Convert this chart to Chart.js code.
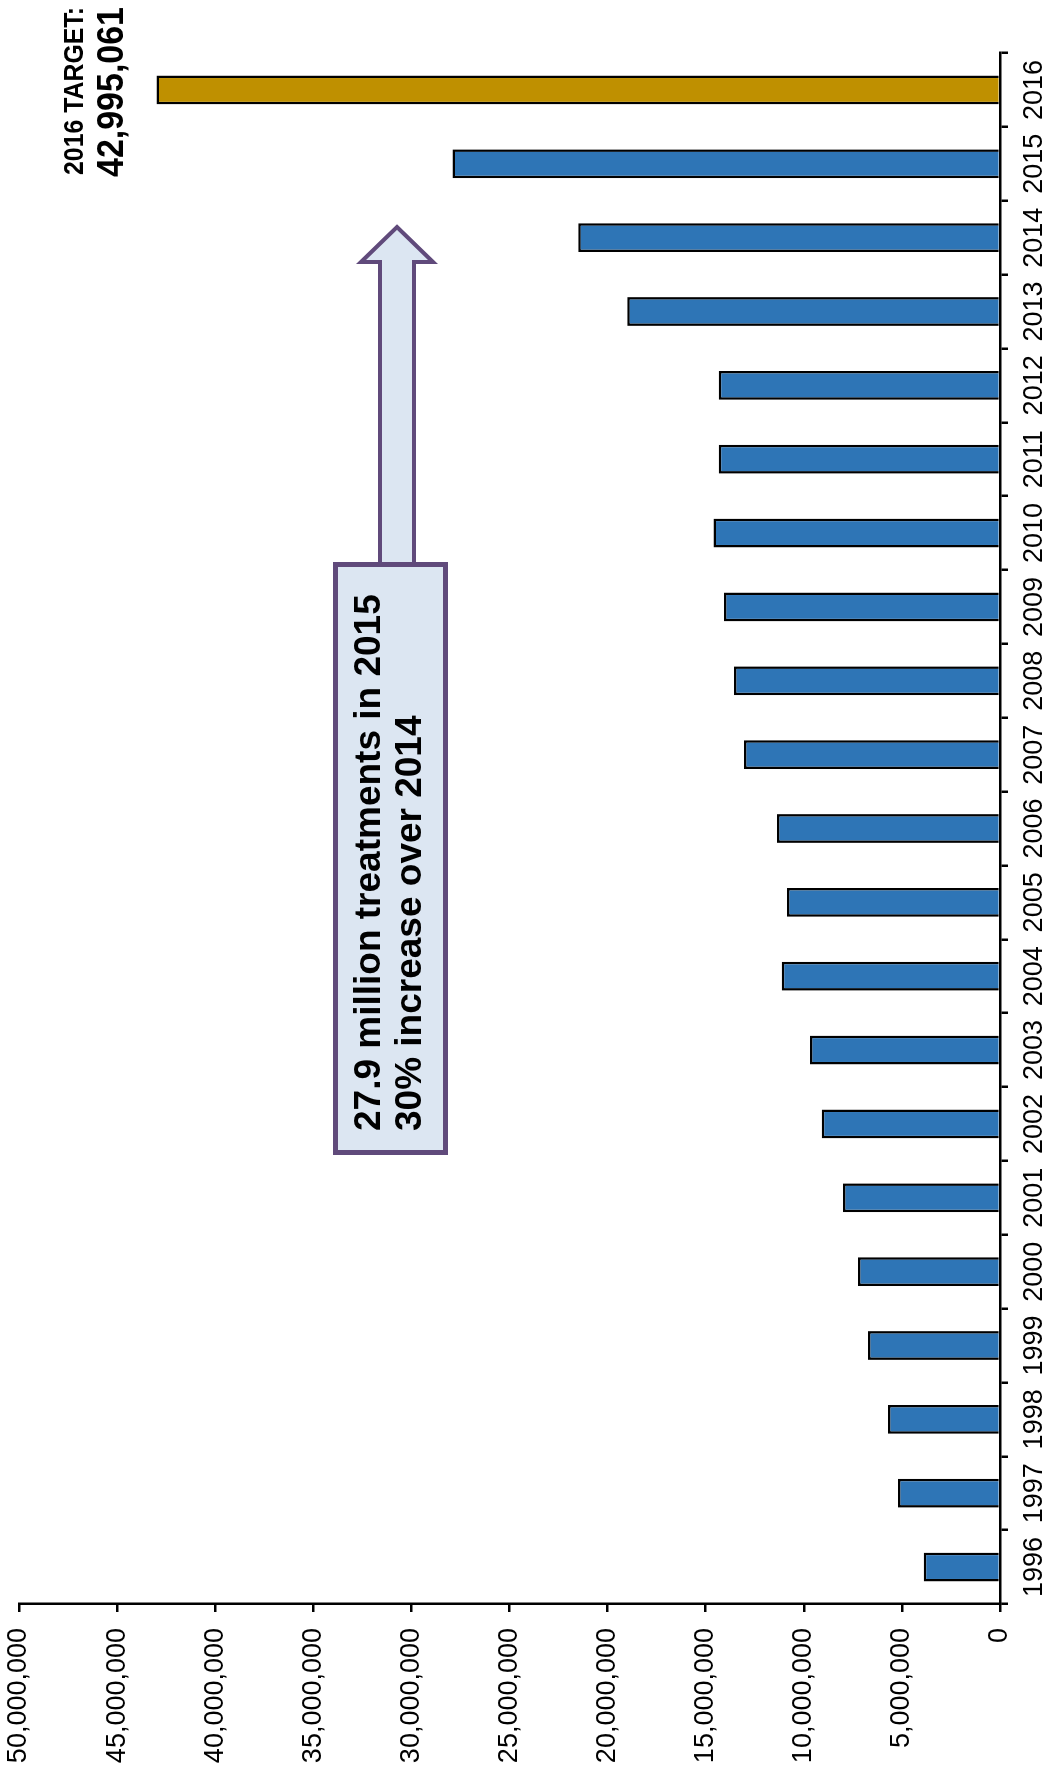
<!DOCTYPE html>
<html><head><meta charset="utf-8">
<script src="https://cdn.jsdelivr.net/npm/chart.js@4"></script>
<style>
html,body{margin:0;padding:0;background:#fff;width:1051px;height:1769px;overflow:hidden}
#wrap{position:absolute;left:0;top:0;width:1769px;height:1051px;transform-origin:0 0;transform:translate(0,1769px) rotate(-90deg)}
canvas{display:block}
</style></head><body>
<div id="wrap"><canvas id="c" width="1769" height="1051"></canvas></div>
<script>
// ---- data ----
const years = ['1996','1997','1998','1999','2000','2001','2002','2003','2004','2005','2006','2007','2008','2009','2010','2011','2012','2013','2014','2015','2016'];
const treatments = [3880000,5200000,5710000,6730000,7240000,8000000,9080000,9690000,11120000,10860000,11370000,13050000,13560000,14070000,14600000,14330000,14330000,19000000,21500000,27900000,42995061];
const targetYear = '2016';
const valueAxisMax = 50000000;
const valueAxisStep = 5000000;
const calloutLines = ['27.9 million treatments in 2015', '30% increase over 2014'];
const targetLines = ['2016 TARGET:', '42,995,061'];

const FONT = "'Liberation Sans', Arial, sans-serif";
const BLUE = '#2E75B6', GOLD = '#BF9000';

const annotations = {
  id: 'annotations',
  afterDraw(chart) {
    const ctx = chart.ctx;
    ctx.save();
    // arrow
    ctx.lineJoin = 'miter';
    ctx.fillStyle = '#DCE6F2';
    ctx.strokeStyle = '#604A7B';
    ctx.lineWidth = 4;
    ctx.beginPath();
    ctx.moveTo(1200, 380);
    ctx.lineTo(1507, 380);
    ctx.lineTo(1507, 361);
    ctx.lineTo(1542, 397);
    ctx.lineTo(1507, 433);
    ctx.lineTo(1507, 414);
    ctx.lineTo(1200, 414);
    ctx.closePath();
    ctx.fill();
    ctx.stroke();
    // box
    ctx.lineWidth = 5;
    ctx.beginPath();
    ctx.rect(616.5, 335.5, 588, 110);
    ctx.fill();
    ctx.stroke();
    // callout text
    ctx.fillStyle = '#000';
    ctx.font = 'bold 37px ' + FONT;
    ctx.textAlign = 'left';
    ctx.textBaseline = 'alphabetic';
    ctx.fillText(calloutLines[0], 638, 380);
    ctx.fillText(calloutLines[1], 638, 421);
    // target text
    ctx.textAlign = 'right';
    ctx.font = 'bold 27px ' + FONT;
    ctx.fillText(targetLines[0], 1762, 83, 168);
    ctx.font = 'bold 37px ' + FONT;
    ctx.fillText(targetLines[1], 1762, 123, 170);
    ctx.restore();
  }
};

new Chart(document.getElementById('c'), {
  type: 'bar',
  data: {
    labels: years,
    datasets: [{
      data: treatments,
      backgroundColor: (c) => years[c.dataIndex] === targetYear ? GOLD : BLUE,
      borderColor: '#000',
      borderWidth: 2.5,
      borderSkipped: 'start',
      categoryPercentage: 1,
      barPercentage: 0.39
    }]
  },
  options: {
    responsive: false,
    devicePixelRatio: 1,
    animation: false,
    layout: { padding: { top: 19, right: 53, bottom: 0, left: 0 } },
    plugins: { legend: { display: false }, tooltip: { enabled: false } },
    scales: {
      x: {
        grid: { drawOnChartArea: false, drawTicks: true, tickLength: 8, color: '#000', lineWidth: 2.5, offset: true },
        border: { display: true, color: '#000', width: 2.5 },
        ticks: { color: '#000', font: { family: FONT, size: 27 }, maxRotation: 0, minRotation: 0, autoSkip: false, padding: 10 },
        afterFit: (s) => { s.height = 51; s.paddingLeft = 0; s.paddingRight = 0; }
      },
      y: {
        min: 0, max: valueAxisMax,
        grid: { drawOnChartArea: false, drawTicks: true, tickLength: 8, color: '#000', lineWidth: 2.5 },
        border: { display: true, color: '#000', width: 2.5 },
        ticks: { stepSize: valueAxisStep, color: '#000', font: { family: FONT, size: 27 }, padding: 16,
          callback: (v) => Number(v).toLocaleString('en-US') },
        afterFit: (s) => { s.width = 165; s.paddingTop = 0; s.paddingBottom = 0; }
      }
    }
  },
  plugins: [annotations]
});
</script>
</body></html>
